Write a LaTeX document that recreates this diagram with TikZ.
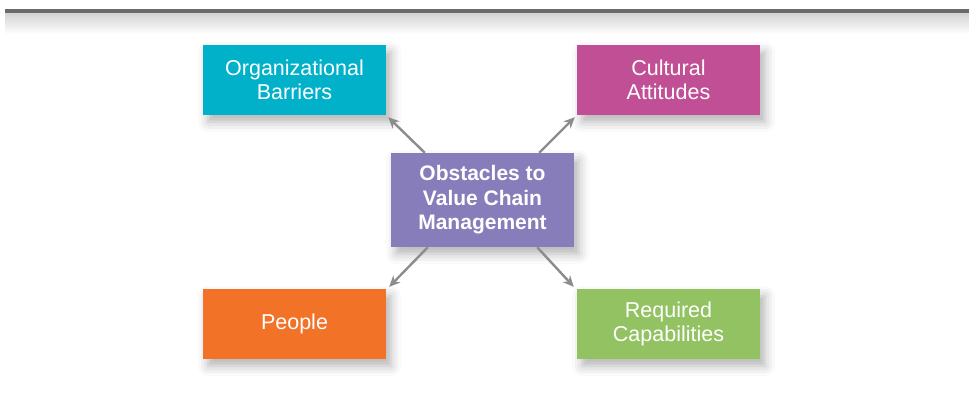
\documentclass[tikz,border=0pt]{standalone}
\usepackage{fontspec}
\setmainfont{Liberation Sans}
\usetikzlibrary{positioning, calc, arrows.meta, shadows.blur}

\definecolor{barteal}{HTML}{00B1C9}
\definecolor{barmagenta}{HTML}{C04F95}
\definecolor{barpurple}{HTML}{887DBB}
\definecolor{barorange}{HTML}{F27227}
\definecolor{bargreen}{HTML}{93C263}
\definecolor{arrgray}{HTML}{8C8C8C}

\begin{document}
\begin{tikzpicture}[x=1pt, y=-1pt,
    box/.style={minimum width=183pt, minimum height=70pt, inner sep=0pt,
        align=center, text=white, font=\fontsize{21.5}{24}\selectfont,
        blur shadow={shadow xshift=5pt, shadow yshift=-7pt,
            shadow blur radius=10pt, shadow opacity=30}},
    hub/.style={box, minimum height=94pt, font=\bfseries\fontsize{21}{24.5}\selectfont},
    arr/.style={draw=arrgray, line width=2.4pt, -{Stealth[length=11pt, width=10pt]}}]
    \useasboundingbox (0,0) rectangle (969,394);
    % top rule with its fading edge
    \shade[top color=black!18, bottom color=white] (5,12) rectangle (969,34);
    \fill[black!58] (5,9) rectangle (969,12.5);
    % boxes
    \node[box, fill=barteal] (org) at (294.5,80) {Organizational\\Barriers};
    \node[box, fill=barmagenta] (cult) at (668.5,80) {Cultural\\Attitudes};
    \node[hub, fill=barpurple] (obst) at (482.5,200) {Obstacles to\\Value Chain\\Management};
    \node[box, fill=barorange] (people) at (294.5,324) {People};
    \node[box, fill=bargreen] (req) at (668.5,324) {Required\\Capabilities};
    % arrows
    \draw[arr] ([xshift=34pt]obst.north west) -- ([xshift=2pt, yshift=-2pt]org.south east);
    \draw[arr] ([xshift=-35pt]obst.north east) -- ([xshift=-2pt, yshift=-2pt]cult.south west);
    \draw[arr] ([xshift=37pt]obst.south west) -- ([xshift=3pt, yshift=2pt]people.north east);
    \draw[arr] ([xshift=-37pt]obst.south east) -- ([xshift=-3pt, yshift=2pt]req.north west);
\end{tikzpicture}
\end{document}
